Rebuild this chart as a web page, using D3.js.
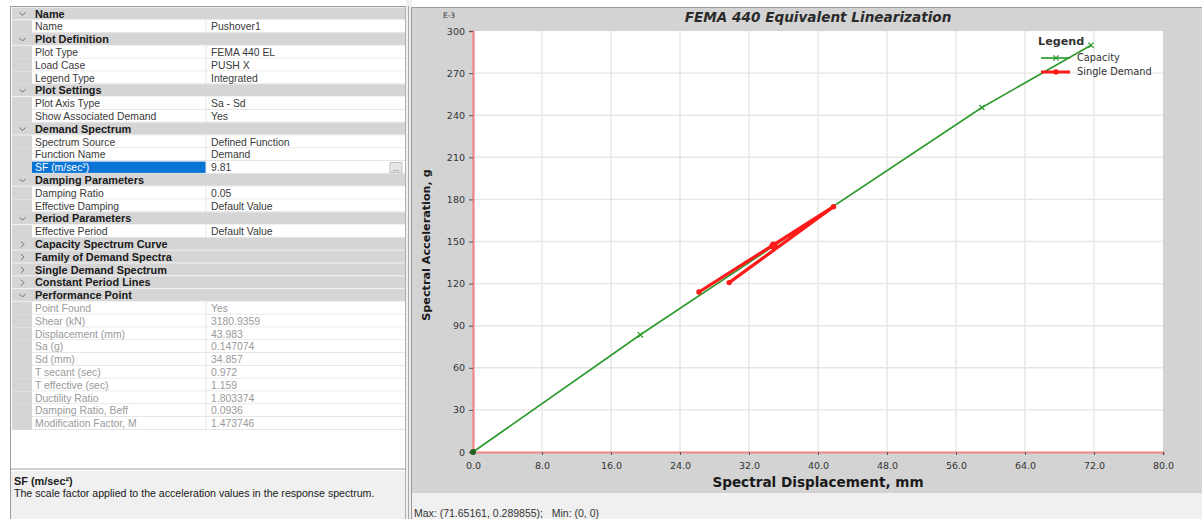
<!DOCTYPE html>
<html>
<head>
<meta charset="utf-8">
<script src="https://cdn.jsdelivr.net/npm/d3@7"></script>
<style>
  body { margin: 0; background: #ffffff; }
  svg { display: block; }
</style>
</head>
<body>
<svg id="view" width="1202" height="519"></svg>
<script>
// ---- Pushover curve data (Sa in units of 1E-3 g, Sd in mm) ----
const capacitySd = [0, 19.4, 59.0, 71.65161];
const capacitySa = [0, 83.5, 245.5, 289.855];
const demandSd = [26.2, 41.8, 29.7];
const demandSa = [114.0, 174.8, 120.7];
const performanceSd = 34.857;
const performanceSa = 147.074;
const xTickValues = [0, 8, 16, 24, 32, 40, 48, 56, 64, 72, 80];
const yTickValues = [0, 30, 60, 90, 120, 150, 180, 210, 240, 270, 300];
const legendLabels = ["Capacity", "Single Demand"];

// ---- Property grid rows: [kind, label, value, state] ----
const gridRows = [
  ["cat", "Name", "", "open"],
  ["prop", "Name", "Pushover1", ""],
  ["cat", "Plot Definition", "", "open"],
  ["prop", "Plot Type", "FEMA 440 EL", ""],
  ["prop", "Load Case", "PUSH X", ""],
  ["prop", "Legend Type", "Integrated", ""],
  ["cat", "Plot Settings", "", "open"],
  ["prop", "Plot Axis Type", "Sa - Sd", ""],
  ["prop", "Show Associated Demand", "Yes", ""],
  ["cat", "Demand Spectrum", "", "open"],
  ["prop", "Spectrum Source", "Defined Function", ""],
  ["prop", "Function Name", "Demand", ""],
  ["prop", "SF (m/sec²)", "9.81", "selected"],
  ["cat", "Damping Parameters", "", "open"],
  ["prop", "Damping Ratio", "0.05", ""],
  ["prop", "Effective Damping", "Default Value", ""],
  ["cat", "Period Parameters", "", "open"],
  ["prop", "Effective Period", "Default Value", ""],
  ["cat", "Capacity Spectrum Curve", "", "closed"],
  ["cat", "Family of Demand Spectra", "", "closed"],
  ["cat", "Single Demand Spectrum", "", "closed"],
  ["cat", "Constant Period Lines", "", "closed"],
  ["cat", "Performance Point", "", "open"],
  ["prop", "Point Found", "Yes", "readonly"],
  ["prop", "Shear (kN)", "3180.9359", "readonly"],
  ["prop", "Displacement (mm)", "43.983", "readonly"],
  ["prop", "Sa (g)", "0.147074", "readonly"],
  ["prop", "Sd (mm)", "34.857", "readonly"],
  ["prop", "T secant (sec)", "0.972", "readonly"],
  ["prop", "T effective (sec)", "1.159", "readonly"],
  ["prop", "Ductility Ratio", "1.803374", "readonly"],
  ["prop", "Damping Ratio, Beff", "0.0936", "readonly"],
  ["prop", "Modification Factor, M", "1.473746", "readonly"]
];
const helpTitle = "SF (m/sec²)";
const helpText = "The scale factor applied to the acceleration values in the response spectrum.";
const chartTitle = "FEMA 440 Equivalent Linearization";
const xAxisTitle = "Spectral Displacement, mm";
const yAxisTitle = "Spectral Acceleration, g";
const yExponent = "E-3";
const statusText = "Max: (71.65161, 0.289855);   Min: (0, 0)";

const svg = d3.select("#view");
const gridFont = "'Liberation Sans', Arial, sans-serif";
const chartFont = "'DejaVu Sans', Verdana, sans-serif";
const gridSize = 10.4, gridBold = 10.9;

// ================= Property grid (left panel) =================
const grid = svg.append("g");
const gx0 = 10, gx1 = 405, gTop = 7.5, rowH = 12.8, splitX = 206, gutterX = 32;

grid.append("rect").attr("x", gx0).attr("y", 0).attr("width", gx1 - gx0).attr("height", 519).attr("fill", "#ffffff");

gridRows.forEach((r, i) => {
  const y = gTop + i * rowH;
  const g = grid.append("g").attr("transform", `translate(0,${y})`);
  const [kind, label, value, state] = r;
  if (kind === "cat") {
    g.append("rect").attr("x", gx0 + 2).attr("y", 0).attr("width", gx1 - gx0 - 2).attr("height", rowH)
      .attr("fill", "#d5d5d5");
    g.append("line").attr("x1", gx0 + 2).attr("x2", gx1).attr("y1", rowH - 0.5).attr("y2", rowH - 0.5)
      .attr("stroke", "#f4f4f4").attr("stroke-width", 1);
    const cx = 22.5, cy = rowH / 2;
    const chevron = state === "open"
      ? `M${cx - 3},${cy - 1.5} L${cx},${cy + 1.5} L${cx + 3},${cy - 1.5}`
      : `M${cx - 1.5},${cy - 3} L${cx + 1.5},${cy} L${cx - 1.5},${cy + 3}`;
    g.append("path").attr("d", chevron).attr("fill", "none").attr("stroke", "#6d6d6d").attr("stroke-width", 1);
    g.append("text").attr("x", 35).attr("y", rowH / 2 + 3.7).text(label)
      .attr("font-family", gridFont).attr("font-size", gridBold).attr("font-weight", "bold").attr("fill", "#1a1a1a");
  } else {
    g.append("rect").attr("x", gx0 + 2).attr("y", 0).attr("width", gutterX - gx0 - 2).attr("height", rowH)
      .attr("fill", "#d5d5d5");
    g.append("rect").attr("x", gutterX).attr("y", 0).attr("width", gx1 - gutterX).attr("height", rowH)
      .attr("fill", "#ffffff");
    if (state === "selected") {
      g.append("rect").attr("x", gutterX).attr("y", 0.5).attr("width", splitX - gutterX).attr("height", rowH - 1)
        .attr("fill", "#0a74d6");
    }
    g.append("line").attr("x1", gutterX).attr("x2", gx1).attr("y1", rowH - 0.5).attr("y2", rowH - 0.5)
      .attr("stroke", "#e4e4e4");
    g.append("line").attr("x1", splitX).attr("x2", splitX).attr("y1", 0).attr("y2", rowH)
      .attr("stroke", "#e4e4e4");
    const col = state === "readonly" ? "#9a9a9a" : "#3a3a3a";
    g.append("text").attr("x", 35).attr("y", rowH / 2 + 3.6).text(label)
      .attr("font-family", gridFont).attr("font-size", gridSize)
      .attr("fill", state === "selected" ? "#ffffff" : col);
    g.append("text").attr("x", 211).attr("y", rowH / 2 + 3.6).text(value)
      .attr("font-family", gridFont).attr("font-size", gridSize).attr("fill", col);
    if (state === "selected") {
      g.append("rect").attr("x", 390).attr("y", 1.5).attr("width", 12).attr("height", rowH - 3)
        .attr("fill", "#e6e6e6").attr("stroke", "#b5b5b5").attr("stroke-width", 0.8);
      g.append("text").attr("x", 396).attr("y", rowH - 3).attr("text-anchor", "middle").text("...")
        .attr("font-family", gridFont).attr("font-size", 8).attr("fill", "#333");
    }
  }
});

// help / description box
const helpY = 471;
grid.append("line").attr("x1", gx0).attr("x2", gx1).attr("y1", helpY - 2).attr("y2", helpY - 2).attr("stroke", "#d0d0d0").attr("stroke-width", 2);
grid.append("rect").attr("x", gx0 + 1).attr("y", helpY).attr("width", gx1 - gx0 - 1).attr("height", 519 - helpY).attr("fill", "#f0f0f0");
grid.append("text").attr("x", 14).attr("y", helpY + 14).text(helpTitle)
  .attr("font-family", gridFont).attr("font-size", gridBold).attr("font-weight", "bold").attr("fill", "#1a1a1a");
grid.append("text").attr("x", 14).attr("y", helpY + 26).text(helpText)
  .attr("font-family", gridFont).attr("font-size", 10.6).attr("fill", "#1a1a1a");

// panel frame
grid.append("line").attr("x1", gx0 + 0.5).attr("x2", gx0 + 0.5).attr("y1", 6).attr("y2", 519).attr("stroke", "#9c9c9c");
grid.append("line").attr("x1", gx0).attr("x2", gx1).attr("y1", 6.5).attr("y2", 6.5).attr("stroke", "#9c9c9c");
grid.append("line").attr("x1", gx1 + 0.5).attr("x2", gx1 + 0.5).attr("y1", 6).attr("y2", 519).attr("stroke", "#b0b0b0");

// splitter
svg.append("rect").attr("x", 406).attr("y", 0).attr("width", 6).attr("height", 519).attr("fill", "#f0f0f0");
svg.append("line").attr("x1", 408.5).attr("x2", 408.5).attr("y1", 6).attr("y2", 519).attr("stroke", "#a8a8a8");

// ================= Chart (right panel) =================
const panelX = 411, panelTop = 7, panelBottom = 493;
svg.append("rect").attr("x", panelX).attr("y", panelTop).attr("width", 1202 - panelX).attr("height", panelBottom - panelTop)
  .attr("fill", "#d3d3d3");
svg.append("line").attr("x1", panelX).attr("x2", 1202).attr("y1", panelTop + 0.5).attr("y2", panelTop + 0.5).attr("stroke", "#9a9a9a");
svg.append("line").attr("x1", panelX + 0.5).attr("x2", panelX + 0.5).attr("y1", panelTop).attr("y2", 519).attr("stroke", "#9a9a9a");
svg.append("rect").attr("x", panelX + 1).attr("y", panelBottom).attr("width", 1202 - panelX).attr("height", 519 - panelBottom)
  .attr("fill", "#f0f0f0");
svg.append("text").attr("x", 414).attr("y", 517).text(statusText)
  .attr("font-family", gridFont).attr("font-size", 10.5).attr("fill", "#333")
  .style("white-space", "pre");

const plot = { left: 473, right: 1163, top: 31, bottom: 452 };
const x = d3.scaleLinear().domain([0, 80]).range([plot.left, plot.right]);
const y = d3.scaleLinear().domain([0, 300]).range([plot.bottom, plot.top]);

svg.append("rect").attr("x", plot.left).attr("y", plot.top).attr("width", plot.right - plot.left)
  .attr("height", plot.bottom - plot.top).attr("fill", "#ffffff");

// gridlines
svg.append("g").selectAll("line").data(xTickValues.filter(d => d > 0 && d < 80)).join("line")
  .attr("x1", d => x(d)).attr("x2", d => x(d)).attr("y1", plot.top).attr("y2", plot.bottom)
  .attr("stroke", "#e6e6e6").attr("stroke-width", 1.4);
svg.append("g").selectAll("line").data(yTickValues.filter(d => d > 0 && d < 300)).join("line")
  .attr("x1", plot.left).attr("x2", plot.right).attr("y1", d => y(d)).attr("y2", d => y(d))
  .attr("stroke", "#e6e6e6").attr("stroke-width", 1.4);

// axes
const xAxis = d3.axisBottom(x).tickValues(xTickValues).tickFormat(d3.format(".1f")).tickSize(3).tickPadding(7);
const yAxis = d3.axisLeft(y).tickValues(yTickValues).tickFormat(d3.format("d")).tickSize(4).tickPadding(4);
const xg = svg.append("g").attr("transform", `translate(0,${plot.bottom})`).call(xAxis);
const yg = svg.append("g").attr("transform", `translate(${plot.left},0)`).call(yAxis);
[xg, yg].forEach(g => {
  g.select(".domain").attr("stroke", "#f08585").attr("stroke-width", 2.2);
  g.selectAll(".tick line").attr("stroke", "#555").attr("stroke-width", 1);
  g.selectAll(".tick text").attr("font-family", chartFont).attr("font-size", 9.5).attr("fill", "#333");
});

svg.append("text").attr("x", 449).attr("y", 18).attr("text-anchor", "middle").text(yExponent)
  .attr("font-family", chartFont).attr("font-size", 7.5).attr("fill", "#333");

// titles
svg.append("text").attr("x", 818).attr("y", 22).attr("text-anchor", "middle").text(chartTitle)
  .attr("font-family", chartFont).attr("font-size", 13.6).attr("font-weight", "bold").attr("font-style", "italic").attr("fill", "#2a2a2a");
svg.append("text").attr("x", 818).attr("y", 487).attr("text-anchor", "middle").text(xAxisTitle)
  .attr("font-family", chartFont).attr("font-size", 13.6).attr("font-weight", "bold").attr("fill", "#1a1a1a");
svg.append("text").attr("transform", "translate(430,245) rotate(-90)").attr("text-anchor", "middle").text(yAxisTitle)
  .attr("font-family", chartFont).attr("font-size", 11.2).attr("font-weight", "bold").attr("fill", "#1a1a1a");

// series
const green = "#2f9b2f", red = "#ff1a1a";
const capacity = capacitySd.map((d, i) => [d, capacitySa[i]]);
const demand = demandSd.map((d, i) => [d, demandSa[i]]);
const line = d3.line().x(d => x(d[0])).y(d => y(d[1]));

svg.append("path").datum(capacity).attr("d", line).attr("fill", "none").attr("stroke", green).attr("stroke-width", 1.7);
svg.append("path").datum(demand).attr("d", line).attr("fill", "none").attr("stroke", red).attr("stroke-width", 3.2)
  .attr("stroke-linejoin", "round");

const cross = (g, cx, cy, s, col) => g.append("path")
  .attr("d", `M${cx - s},${cy - s} L${cx + s},${cy + s} M${cx - s},${cy + s} L${cx + s},${cy - s}`)
  .attr("stroke", col).attr("stroke-width", 1.3).attr("fill", "none");

const markers = svg.append("g");
capacity.slice(1).forEach(d => cross(markers, x(d[0]), y(d[1]), 2.6, green));
markers.append("circle").attr("cx", x(capacity[0][0])).attr("cy", y(capacity[0][1])).attr("r", 3).attr("fill", "#1f5f1f");
demand.forEach(d => markers.append("circle").attr("cx", x(d[0])).attr("cy", y(d[1])).attr("r", 2.7).attr("fill", red));
markers.append("circle").attr("cx", x(performanceSd)).attr("cy", y(performanceSa)).attr("r", 4.2).attr("fill", red);

// legend
const lg = svg.append("g");
lg.append("text").attr("x", 1038).attr("y", 45).text("Legend")
  .attr("font-family", chartFont).attr("font-size", 11.2).attr("font-weight", "bold").attr("fill", "#333");
const legendColors = [green, red];
legendLabels.forEach((lab, i) => {
  const ly = 58 + i * 14;
  lg.append("line").attr("x1", 1041).attr("x2", 1070).attr("y1", ly).attr("y2", ly)
    .attr("stroke", legendColors[i]).attr("stroke-width", i === 0 ? 1.7 : 3);
  if (i === 0) cross(lg, 1056, ly, 2.6, green);
  else lg.append("circle").attr("cx", 1056).attr("cy", ly).attr("r", 2.7).attr("fill", red);
  lg.append("text").attr("x", 1077).attr("y", ly + 3).text(lab)
    .attr("font-family", chartFont).attr("font-size", 9.8).attr("fill", "#333");
});
</script>
</body>
</html>
